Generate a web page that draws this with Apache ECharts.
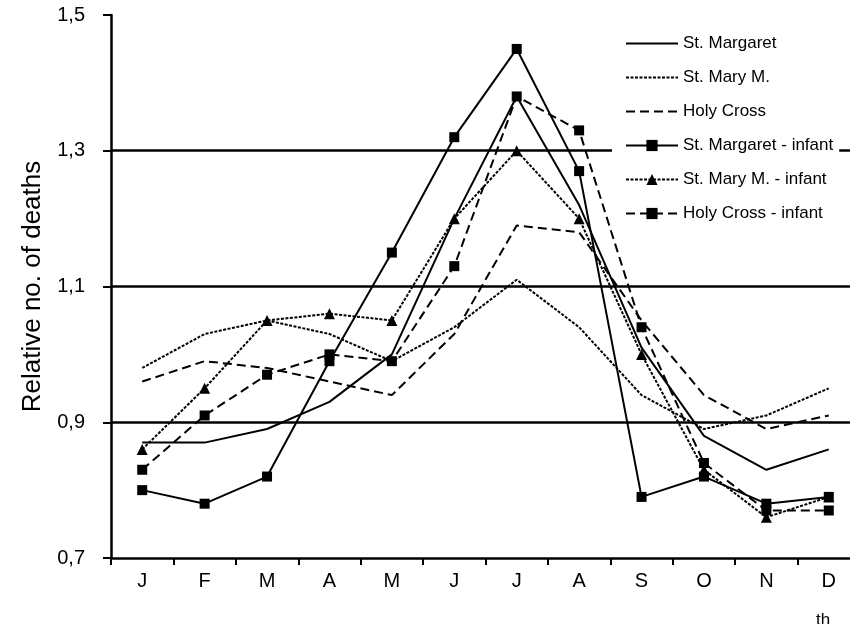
<!DOCTYPE html>
<html><head><meta charset="utf-8">
<script src="https://cdn.jsdelivr.net/npm/echarts@6/dist/echarts.min.js"></script>
<style>html,body{margin:0;padding:0;background:#fff}#c{width:850px;height:624px}</style>
</head><body><div id="c"></div>
<script>
const months = ['J','F','M','A','M','J','J','A','S','O','N','D'];
const yMin = 0.7, yMax = 1.5, yStep = 0.2;
const stMargaret = [0.87,0.87,0.89,0.93,1.00,1.20,1.38,1.22,1.01,0.88,0.83,0.86];
const stMaryM = [0.98,1.03,1.05,1.03,0.99,1.04,1.11,1.04,0.94,0.89,0.91,0.95];
const holyCross = [0.96,0.99,0.98,0.96,0.94,1.03,1.19,1.18,1.05,0.94,0.89,0.91];
const stMargaretInfant = [0.80,0.78,0.82,0.99,1.15,1.32,1.45,1.27,0.79,0.82,0.78,0.79];
const stMaryMInfant = [0.86,0.95,1.05,1.06,1.05,1.20,1.30,1.20,1.00,0.83,0.76,0.79];
const holyCrossInfant = [0.83,0.91,0.97,1.00,0.99,1.13,1.38,1.33,1.04,0.84,0.77,0.77];
const seriesNames = ['St. Margaret','St. Mary M.','Holy Cross','St. Margaret - infant','St. Mary M. - infant','Holy Cross - infant'];

const FONT = 'Arial, "Liberation Sans", sans-serif';
const solid = {color:'#000', width:2, type:'solid'};
const dotted = {color:'#000', width:2, type:[3,1.5]};
const dashed = {color:'#000', width:2, type:[9,5]};

function mk(name, data, ls, symbol, size){
  return {
    name, type:'line', data, lineStyle: ls, color:'#000',
    symbol: symbol || 'none', symbolSize: size || 0,
    showSymbol: !!symbol,
    itemStyle:{color:'#000', borderWidth:0},
    emphasis:{disabled:true}, animation:false
  };
}

const legendData = seriesNames.map((n,i)=> i < 3
  ? {name:n, itemStyle:{color:'rgba(0,0,0,0)', borderColor:'rgba(0,0,0,0)', borderWidth:0}}
  : {name:n});

const chart = echarts.init(document.getElementById('c'), null, {renderer:'canvas'});
chart.setOption({
  animation:false,
  backgroundColor:'#fff',
  textStyle:{fontFamily:FONT},
  grid:{left:111, top:15, width:749, bottom:66, containLabel:false, outerBoundsMode:'none'},
  xAxis:{
    type:'category', data:months, boundaryGap:true,
    axisLine:{lineStyle:{color:'#000', width:2.5}},
    axisTick:{show:true, length:7, lineStyle:{color:'#000', width:2}},
    axisLabel:{color:'#000', fontSize:20, margin:13, fontFamily:FONT},
    splitLine:{show:false}
  },
  yAxis:{
    type:'value', min:yMin, max:yMax, interval:yStep,
    name:'Relative no. of deaths', nameLocation:'middle', nameRotate:90, nameGap:54,
    nameTextStyle:{color:'#000', fontSize:26, fontFamily:FONT},
    axisLine:{show:true, lineStyle:{color:'#000', width:2.5}},
    axisTick:{show:true, length:8, lineStyle:{color:'#000', width:2}},
    axisLabel:{color:'#000', fontSize:20, margin:26, fontFamily:FONT,
      formatter:v=>v.toFixed(1).replace('.', ',')},
    splitLine:{show:true, showMinLine:false, showMaxLine:false, lineStyle:{color:'#000', width:2.5}}
  },
  legend:{
    orient:'vertical', left:612, top:25,
    padding:[10,6,10,13], backgroundColor:'#fff',
    itemWidth:52, itemHeight:14, itemGap:17,
    textStyle:{color:'#000', fontSize:17, fontFamily:FONT},
    data:legendData
  },
  graphic:[{type:'text', left:816, top:612, style:{text:'th', font:'17px '+FONT, fill:'#000'}}],
  series:[
    mk(seriesNames[0], stMargaret, solid),
    mk(seriesNames[1], stMaryM, dotted),
    mk(seriesNames[2], holyCross, dashed),
    mk(seriesNames[3], stMargaretInfant, solid, 'rect', 10),
    mk(seriesNames[4], stMaryMInfant, dotted, 'triangle', 11),
    mk(seriesNames[5], holyCrossInfant, dashed, 'rect', 10)
  ]
});
</script></body></html>
